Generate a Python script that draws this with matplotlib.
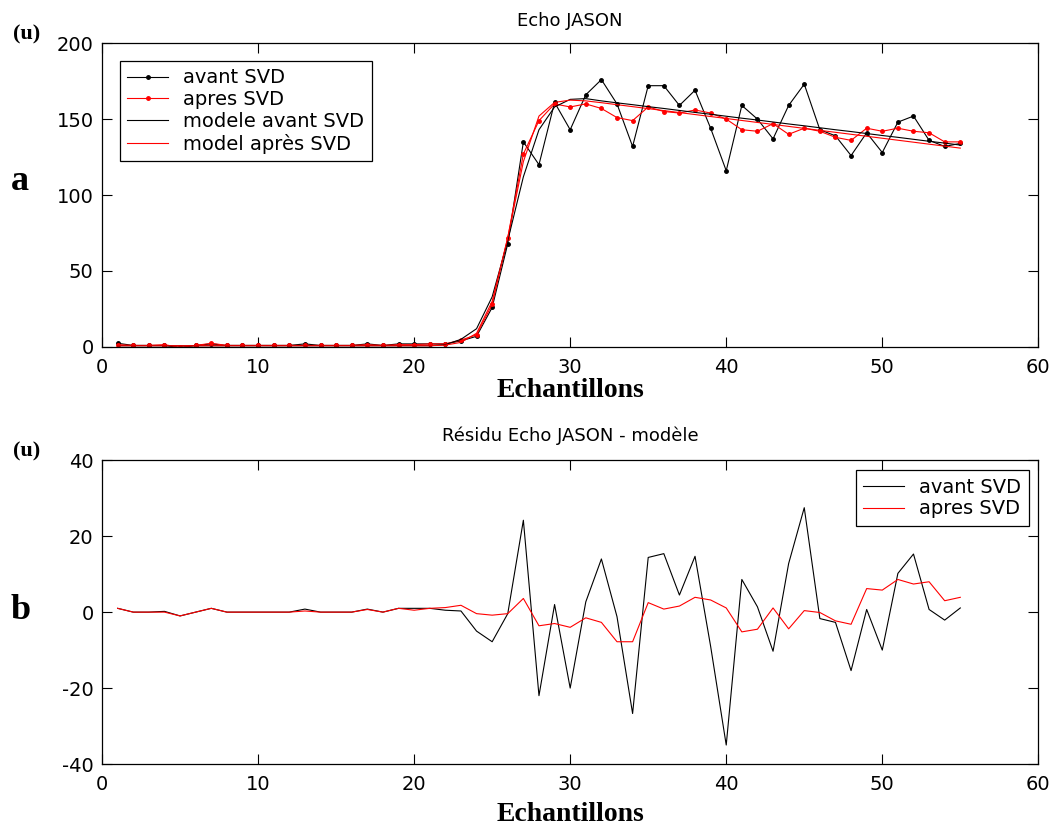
import numpy as np
import matplotlib
matplotlib.use("Agg")
import matplotlib.pyplot as plt

# samples 1..55
samples = np.arange(1, 56)

echo_avant = [2.4, 1, 1, 1, -0.5, 1, 2, 1, 1, 1,
              1, 1, 2, 1, 1, 1, 2, 1, 2, 2,
              2, 2, 4, 7, 26, 68, 135, 120, 161, 143,
              166, 176, 160, 132, 172, 172, 159, 169, 144, 116,
              159, 150, 137, 159, 173, 143, 139, 126, 141, 128,
              148, 152, 136, 132, 134]

echo_apres = [1.5, 1, 1, 1.5, -0.3, 1, 2.4, 1, 1, 1,
              1, 1, 1, 1, 1, 1, 1.5, 1, 1.5, 1.5,
              2, 2, 4.5, 8, 28, 72, 127, 149, 160, 158,
              160, 157, 151, 149, 158, 155, 154, 156, 154, 150,
              143, 142, 147, 140, 144, 142, 138, 136, 144, 142,
              144, 142, 141, 135, 135]

modele_avant = [0.8, 0.8, 0.8, 0.8, 0.8, 0.8, 0.8, 0.8, 0.8, 0.8,
                0.8, 0.8, 0.8, 0.8, 0.8, 0.8, 0.8, 0.8, 0.8, 0.8,
                0.8, 1.5, 5, 12, 33, 70, 112, 143, 158, 163,
                163.5, 162, 160.7, 159.5, 158.2, 157, 155.7, 154.4, 153.2, 151.9,
                150.6, 149.4, 148.1, 146.8, 145.6, 144.3, 143, 141.8, 140.5, 139.2,
                138, 136.7, 135.4, 134.2, 132.9]

modele_apres = [0.8, 0.8, 0.8, 0.8, 0.8, 0.8, 0.8, 0.8, 0.8, 0.8,
                0.8, 0.8, 0.8, 0.8, 0.8, 0.8, 0.8, 0.8, 0.8, 0.8,
                0.8, 1.2, 3, 9, 30, 72, 122, 152, 161, 162.5,
                162, 160.8, 159.5, 158.2, 156.9, 155.6, 154.3, 153, 151.7, 150.4,
                149.1, 147.8, 146.5, 145.2, 143.9, 142.6, 141.3, 140, 138.7, 137.4,
                136.1, 134.8, 133.5, 132.2, 130.9]

residu_avant = [1, 0, 0, 0.2, -1, 0, 1, 0, 0, 0,
                0, 0, 0.8, 0, 0, 0, 0.8, 0, 1, 1,
                1, 0.5, 0.3, -5, -7.8, -0.4, 24.2, -22, 2, -20,
                2.7, 14, -1.2, -26.7, 14.4, 15.4, 4.5, 14.7, -9, -35,
                8.6, 1.4, -10.3, 12.8, 27.5, -1.7, -2.7, -15.4, 0.7, -10,
                10.2, 15.3, 0.7, -2.1, 1.1]

residu_apres = [1, 0, 0, 0, -1, 0, 1, 0, 0, 0,
                0, 0, 0.3, 0, 0, 0, 0.7, 0, 1, 0.5,
                1, 1.2, 1.8, -0.4, -0.8, -0.4, 3.6, -3.6, -3, -4,
                -1.5, -2.7, -7.8, -7.8, 2.5, 0.8, 1.6, 3.9, 3.2, 1.1,
                -5.2, -4.5, 1.1, -4.4, 0.4, -0.1, -2.3, -3.2, 6.2, 5.8,
                8.6, 7.4, 8, 3, 3.9]

plt.rcParams["font.family"] = ["DejaVu Sans"]
plt.rcParams["font.size"] = 13
plt.rcParams["axes.unicode_minus"] = False

SERIF = ["Liberation Serif", "DejaVu Serif"]
LW = 0.8


def style_axes(ax):
    ax.set_xlim(0, 60)
    ax.set_xticks([0, 10, 20, 30, 40, 50, 60])
    ax.tick_params(direction="in", length=7, width=0.8, top=True, right=True,
                   labelsize=14)
    ax.tick_params(axis="x", pad=8)
    ax.tick_params(axis="y", pad=6)
    for sp in ax.spines.values():
        sp.set_linewidth(0.9)
        sp.set_color("black")


def add_legend(ax, loc, pad):
    leg = ax.legend(loc=loc, fontsize=14, borderaxespad=pad,
                    labelspacing=0.14, handlelength=2.1, handletextpad=0.75,
                    borderpad=0.4, fancybox=False, framealpha=1,
                    edgecolor="black")
    leg.get_frame().set_linewidth(0.9)


fig = plt.figure(figsize=(10.52, 8.30), dpi=100)
ax1 = fig.add_axes([0.097, 0.582, 0.890, 0.366])
ax2 = fig.add_axes([0.097, 0.0795, 0.890, 0.366])

# --- a: echo and models
ax1.plot(samples, echo_avant, color="black", lw=LW, marker=".", ms=5,
         label="avant SVD")
ax1.plot(samples, echo_apres, color="red", lw=LW, marker=".", ms=5,
         label="apres SVD")
ax1.plot(samples, modele_avant, color="black", lw=LW, label="modele avant SVD")
ax1.plot(samples, modele_apres, color="red", lw=LW, label="model après SVD")
ax1.set_ylim(0, 200)
ax1.set_yticks([0, 50, 100, 150, 200])
style_axes(ax1)
ax1.set_title("Echo JASON", fontsize=13, pad=12)
ax1.set_xlabel("Echantillons", family=SERIF, fontweight="bold", fontsize=20,
               labelpad=1)
add_legend(ax1, "upper left", 0.9)

# --- b: residuals
ax2.plot(samples, residu_avant, color="black", lw=LW, label="avant SVD")
ax2.plot(samples, residu_apres, color="red", lw=LW, label="apres SVD")
ax2.set_ylim(-40, 40)
ax2.set_yticks([-40, -20, 0, 20, 40])
style_axes(ax2)
ax2.set_title("Résidu Echo JASON - modèle", fontsize=13, pad=14)
ax2.set_xlabel("Echantillons", family=SERIF, fontweight="bold", fontsize=20,
               labelpad=6)
add_legend(ax2, "upper right", 0.5)

# panel marks
fig.text(27 / 1052, 1 - 34 / 830, "(u)", family=SERIF, fontweight="bold",
         fontsize=16, ha="center", va="center")
fig.text(27 / 1052, 1 - 451 / 830, "(u)", family=SERIF, fontweight="bold",
         fontsize=16, ha="center", va="center")
fig.text(20 / 1052, 1 - 182 / 830, "a", family=SERIF, fontweight="bold",
         fontsize=26, ha="center", va="center")
fig.text(21 / 1052, 1 - 610 / 830, "b", family=SERIF, fontweight="bold",
         fontsize=26, ha="center", va="center")

fig.savefig("out.png", dpi=100, facecolor="white")
